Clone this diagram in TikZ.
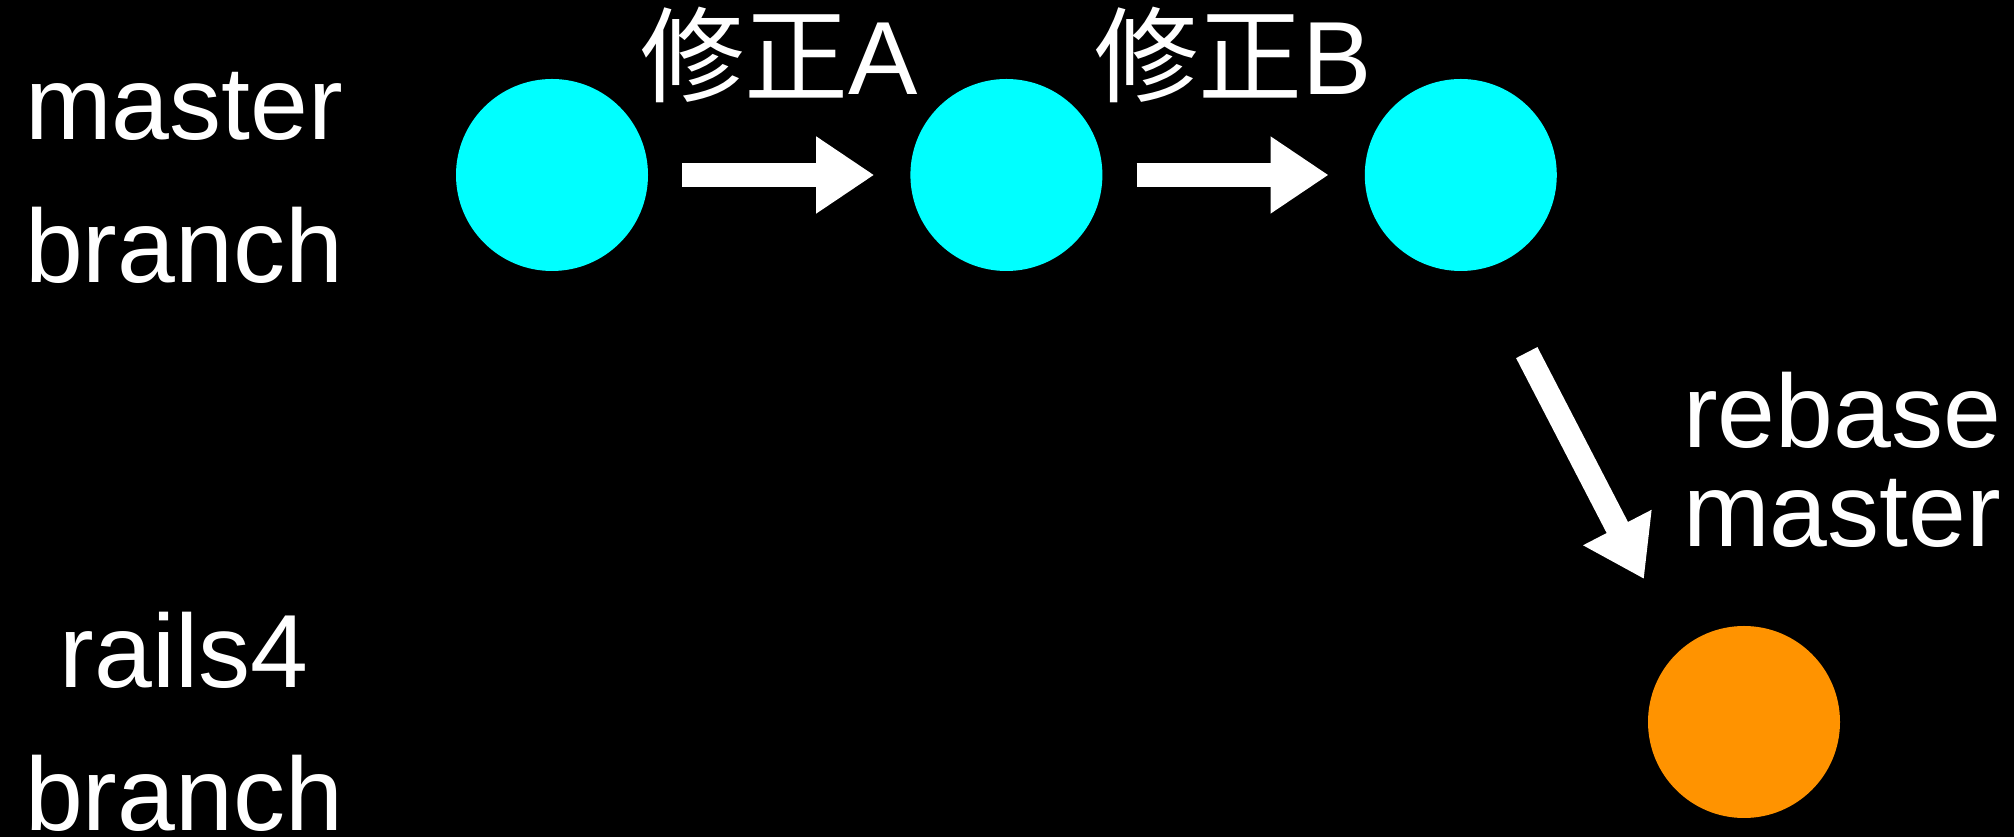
\documentclass[tikz,border=0pt]{standalone}
\usepackage{fontspec}
\setmainfont{Liberation Sans}
\newfontfamily\jpfont{Noto Sans CJK JP}
\usetikzlibrary{arrows.meta, positioning, calc}
\definecolor{commitCyan}{HTML}{00FFFF}
\definecolor{commitOrange}{HTML}{FF9300}
\tikzstyle{commit} = [circle, minimum size=192pt, inner sep=0pt]
\tikzstyle{masterCommit} = [commit, fill=commitCyan]
\tikzstyle{railsCommit} = [commit, fill=commitOrange]
\tikzstyle{bigText} = [text=white, inner sep=0pt, align=center, anchor=base, font=\fontsize{104}{143}\selectfont]
\tikzstyle{tightText} = [bigText, font=\fontsize{104}{99}\selectfont]
\tikzstyle{ar} = [white, line width=24pt, -{Triangle[length=58pt, width=73pt]}, shorten <= 34pt, shorten >= 36pt]

\begin{document}
\begin{tikzpicture}[x=1pt, y=1pt, node distance=262pt]
    % background
    \fill [black] (0,0) rectangle (2014,837);
    \useasboundingbox (0,0) rectangle (2014,837);

    % the commits
    \node (c1) [masterCommit] at (552,662) {};
    \node (c2) [masterCommit, right=of c1] {};
    \node (c3) [masterCommit, right=of c2] {};
    \node (r1) [railsCommit] at (1744,115) {};

    % branch names (base is the last line)
    \node (masterName) [bigText] at (184,554) {master\\branch};
    \node (railsName) [bigText] at (184,6) {rails4\\branch};

    % the fixes on master
    \draw [ar] (c1) -- node (fixA) [bigText, yshift=80pt] {{\jpfont 修正}A} (c2);
    \draw [ar] (c2) -- node (fixB) [bigText, yshift=80pt] {{\jpfont 修正}B} (c3);

    % rebase onto master
    \draw [ar, shorten <= 200pt, shorten >= 161pt] ([xshift=-26pt]c3.center) -- ([xshift=-26pt]r1.center);
    \node (rebase) [tightText] at (1842,290) {rebase\\master};
\end{tikzpicture}
\end{document}
